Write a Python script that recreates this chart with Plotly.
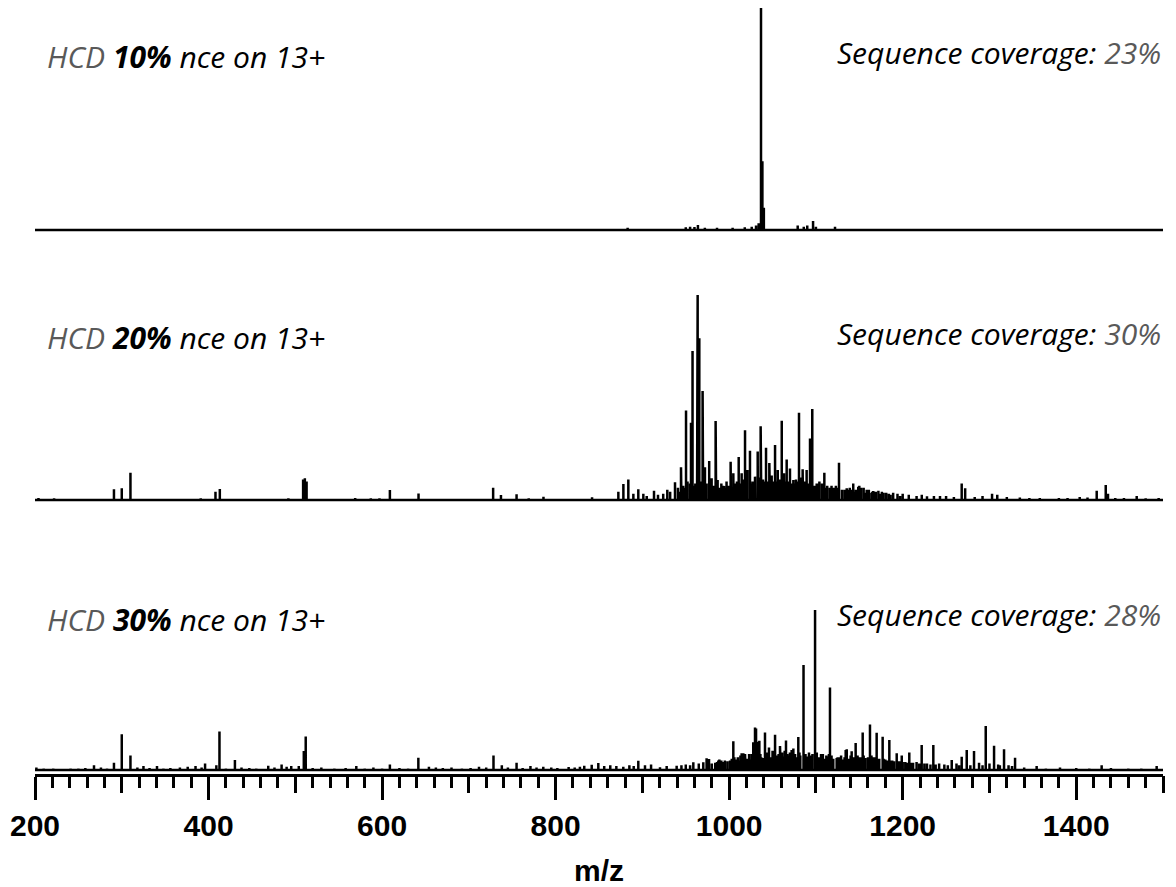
import plotly.graph_objects as go

# ---------------- data (m/z, relative intensity %) ----------------
# Panel 1: HCD 10% nce
p1_mz = [883, 950, 955, 960, 964, 972, 986, 1004, 1018, 1026, 1031, 1034,
         1036.7, 1038.3, 1040, 1079, 1086, 1090, 1096.7, 1100, 1122, 1210]
p1_int = [1, 1.2, 1.5, 1.3, 2.2, 1, 1, 1, 1.2, 1.5, 2, 3,
          100, 31, 10, 2, 1.5, 2, 4, 1.5, 1.5, 0.5]

# Panel 2: HCD 20% nce
p2_mz = [204, 222, 291, 300, 310, 391, 408, 413, 492, 509, 511, 513, 569, 587, 597,
         609, 642, 728, 737, 755, 769, 786, 842,
         872.3, 878.1, 883.8, 889.6, 895.3, 901.1, 913.4, 928.7, 937.6, 944.5,
         950.3, 956, 957.8, 963.7, 965.6, 969.4, 972.1,
         977, 979.8, 984.4, 986.7, 994, 1001.7, 1004.8, 1011, 1014.4, 1018.3,
         1021, 1024, 1029.8, 1032.9, 1036.3, 1042.5, 1046.3, 1049, 1052.9, 1056,
         1060.6, 1063.2, 1066.3, 1070.1, 1074, 1080.5, 1084.7, 1089.3, 1093.2, 1095.8,
         1100.9, 1109.7, 1120, 1126.6, 1135.5, 1143, 1148.8, 1150, 1155, 1158.5,
         1165, 1166.1, 1172, 1178, 1184, 1189, 1216, 1228, 1243, 1268,
         1272, 1303, 1309, 1358, 1404, 1423.6, 1434, 1436.6, 1469.7]
p2_int = [1, 0.8, 5.2, 5.7, 13.3, 0.8, 4, 5.4, 0.8, 10, 10.6, 9, 1, 0.8, 0.8,
          4.9, 3.2, 6, 2.4, 2.8, 0.8, 1.6, 1.3,
          4, 7.8, 10, 3, 5.2, 3, 4.5, 5, 8.6, 16,
          43.6, 37.7, 72.7, 100, 78.9, 53.2, 16,
          19, 10.6, 38.5, 9.8, 6.8, 18.7, 13, 21, 13, 34,
          14.6, 24, 11.4, 23.6, 36, 25.5, 18, 12, 26.8, 14.6,
          38.7, 13, 19.8, 15.4, 9.8, 42.6, 15, 14.6, 30, 44.4,
          8, 13.3, 5.7, 18.2, 5.7, 8, 6.5, 7, 6, 5,
          4, 4.4, 4.5, 3.5, 3, 3.5, 2, 1.8, 2, 8,
          5.7, 3, 2.5, 1, 1.5, 4.5, 7.3, 3, 2]
# dense low-level fragment "grass" in panel 2
g2_mz = [905, 918, 924, 932, 941, 947, 952, 961, 967, 974,
         982, 989, 991, 997, 999, 1007, 1009, 1016, 1027, 1035,
         1039, 1044, 1051, 1058, 1068, 1072, 1077, 1082, 1087, 1091,
         1098, 1104, 1107, 1113, 1116, 1123, 1130, 1139, 1146, 1152,
         1161, 1169, 1176, 1181, 1194, 1200, 1207, 1222, 1236, 1250,
         1259, 1283, 1292, 1320, 1335, 1346, 1380, 1390, 1413, 1445,
         1455, 1480, 1495]
g2_int = [2, 2.5, 3, 4, 6, 7, 9, 8, 9, 8,
          7, 6, 8, 9, 7, 8, 9, 10, 9, 11,
          10, 9, 8, 10, 9, 8, 10, 11, 9, 8,
          7, 9, 8, 7, 6, 7, 5, 6, 5, 6,
          5, 4, 4, 3.5, 3, 3, 2.5, 2.5, 2, 2,
          1.5, 1.5, 2, 1.5, 1.2, 1, 1, 1, 1.2, 1,
          1, 0.8, 1]
g2b_mz = [943, 945, 949, 955, 959, 963, 970, 978, 981, 985,
          993, 995, 1002, 1005, 1012, 1013, 1020, 1026, 1030, 1033,
          1037, 1041, 1047, 1050, 1055, 1059, 1065, 1069, 1075, 1079,
          1085, 1088, 1094, 1097, 1102, 1108, 1111, 1118, 1121, 1125,
          1133, 1137, 1141, 1144, 1149, 1157, 1164, 1174, 1186, 1197]
g2b_int = [4, 5, 6, 8, 7, 6, 6, 7, 6, 8,
           7, 6, 8, 9, 8, 7, 9, 8, 9, 9,
           8, 9, 8, 9, 9, 8, 9, 9, 8, 9,
           8, 8, 8, 7, 8, 7, 6, 7, 6, 6,
           5, 5, 5, 4, 4, 3.5, 3.5, 3, 2.5, 2]

# Panel 3: HCD 30% nce
p3_mz = [201.6, 221, 241, 268, 291, 300, 310, 325, 340.6, 367, 376, 385, 396, 409, 412.6,
         430.4, 468.8, 484.2, 495.3, 504, 509.8, 512, 570.3, 609, 641.8, 654, 711.7,
         728.4, 738, 755, 771, 785.8, 833, 841.6, 849.2, 895.3, 920.3, 939.5, 958.7,
         970.2, 974, 976.8, 987.5, 988.7, 1004.8, 1014.4, 1016.3, 1018.3, 1027.8, 1029.8,
         1031, 1032.5, 1034.8, 1041.3, 1045.9, 1052.9, 1058.6, 1059.4, 1065.5, 1072,
         1074, 1079.7, 1085.7, 1099, 1105.9, 1116.2, 1123.9, 1134.3, 1135.5, 1141.2,
         1145.8, 1153.9, 1162.3, 1170, 1176.9, 1184.6, 1193.1, 1198.9, 1207.6, 1221.9,
         1235.3, 1256.5, 1268, 1273.8, 1282.2, 1295.7, 1305.3, 1316.8, 1329.5, 1354.4,
         1381.3, 1429.3, 1492.7]
p3_int = [1.5, 1, 1, 3, 4.6, 22.3, 9, 2.5, 2.5, 1.5, 2, 2.5, 4, 3, 24,
          6.3, 2.7, 3.5, 2.5, 2.5, 11.9, 21, 2.5, 3.5, 7.7, 2, 2,
          9, 3, 4.6, 2.5, 2, 2.7, 3.3, 4.4, 5.8, 1.7, 2.7, 4.8,
          4.8, 7.3, 6.9, 6, 6.5, 18, 10.4, 10.4, 10, 17.3, 26.5,
          26, 17.7, 18.3, 23.5, 14, 22, 15, 14.8, 18.5, 12.5,
          13.5, 20.6, 65.6, 100, 10, 51.5, 7.5, 12.5, 13, 11.7,
          16.8, 23.5, 28.5, 23.3, 20.8, 18.8, 10.4, 9, 11, 15.6,
          15.6, 6.3, 8.3, 12.5, 11.9, 27.5, 15.2, 13, 7.7, 2.5,
          1.5, 3, 2.5]
# baseline noise and low-level fragments in panel 3
n3_mz = [210, 230, 250, 258, 276, 283, 318, 332, 348, 356,
         392, 420, 438, 447, 455, 476, 490, 520, 530, 545,
         558, 580, 590, 600, 620, 630, 662, 670, 680, 692,
         702, 720, 745, 762, 778, 795, 802, 815, 822, 828,
         856, 863, 870, 878, 885, 890, 903, 910, 928, 945,
         950, 955, 965, 980, 984, 993, 998, 1001, 1008, 1011,
         1021, 1024, 1037, 1039, 1048, 1055, 1062, 1068, 1077, 1082,
         1090, 1094, 1103, 1110, 1113, 1120, 1127, 1131, 1138, 1150,
         1157, 1166, 1173, 1180, 1188, 1196, 1203, 1212, 1216, 1228,
         1242, 1248, 1262, 1288, 1300, 1310, 1322, 1340, 1365, 1400,
         1415, 1440, 1460, 1475]
n3_int = [1, 0.8, 1, 1.2, 1.5, 1, 1.5, 1.2, 1, 1.2,
          1.5, 1, 1.5, 1.2, 1, 1.5, 2, 1.2, 1.5, 1,
          1.2, 1, 1.5, 1, 1.2, 1, 1.5, 1.2, 1.5, 1,
          1.2, 1.5, 1.5, 1.2, 1.5, 1.5, 1.2, 1.8, 1.5, 2,
          2.5, 3, 2.5, 2, 3, 2.5, 3, 3.5, 2.5, 3,
          3.5, 3, 4, 4, 4.5, 5, 5.5, 6, 6.5, 6,
          7, 6.5, 8, 7.5, 8, 9, 8.5, 9, 8, 9,
          8.5, 9, 8, 7, 8, 7, 8, 6.5, 7, 8,
          7.5, 8, 7, 6.5, 6, 5.5, 5, 4.5, 5, 4,
          4, 3.5, 4, 4.5, 4, 3.5, 3, 1.5, 1, 1.2,
          1, 1.2, 1, 1]
n3b_mz = [986, 991, 995, 1003, 1006, 1010, 1013, 1019, 1023, 1026,
          1033, 1036, 1043, 1046, 1050, 1053, 1057, 1061, 1064, 1067,
          1070, 1076, 1081, 1088, 1092, 1096, 1101, 1108, 1112, 1115,
          1118, 1125, 1129, 1133, 1140, 1143, 1148, 1152, 1155, 1160,
          1164, 1168, 1172, 1178, 1182, 1186, 1190, 1195, 1200, 1205,
          1210, 1219, 1225, 1232, 1238, 1252, 1265, 1278, 1292, 1312,
          1326]
n3b_int = [5, 6, 6, 7, 8, 8, 9, 9, 10, 10,
           11, 10, 11, 10, 12, 11, 10, 11, 12, 10,
           11, 10, 11, 10, 11, 10, 11, 10, 9, 10,
           9, 8, 9, 8, 9, 8, 9, 8, 9, 8,
           9, 8, 7, 7, 6, 6, 5.5, 5, 5, 4.5,
           4.5, 4, 4, 3.5, 3.5, 3, 3, 3, 3, 3,
           2.5]

panel_labels = ["10%", "20%", "30%"]
coverages = ["23%", "30%", "28%"]
x_range = [200, 1500]
major_ticks = [200, 400, 600, 800, 1000, 1200, 1400]
mid_ticks = [300, 500, 700, 900, 1100, 1300, 1500]

# ---------------- layout geometry (pixels) ----------------
W, H = 1176, 887
ML, MR, MT, MB = 35, 13, 0, 112
PH = H - MT - MB  # plot height
# (baseline pixel, 100% pixel) for each panel
panel_px = [(230, 8), (500, 295), (770, 610)]
YLO, YHI = -3, 101


def domain(base, top):
    unit = (base - top) / 100.0
    lo_px = base - YLO * unit
    hi_px = base - YHI * unit
    return [max(0.0, (MT + PH - lo_px) / PH), min(1.0, (MT + PH - hi_px) / PH)]


def sticks(mz, inten):
    pts = sorted(zip(mz, inten))
    xs, ys = [x_range[0]], [0]
    for m, h in pts:
        xs += [m, m, m]
        ys += [0, h, 0]
    xs.append(x_range[1])
    ys.append(0)
    return xs, ys


series = [
    sticks(p1_mz, p1_int),
    sticks(p2_mz + g2_mz + g2b_mz, p2_int + g2_int + g2b_int),
    sticks(p3_mz + n3_mz + n3b_mz, p3_int + n3_int + n3b_int),
]

fig = go.Figure()
yaxes = ["y", "y2", "y3"]
for (xs, ys), ya in zip(series, yaxes):
    fig.add_trace(go.Scatter(x=xs, y=ys, xaxis="x", yaxis=ya, mode="lines",
                             line=dict(color="black", width=2.5), hoverinfo="skip",
                             showlegend=False))
# empty trace carrying the overlay axis for the intermediate ticks
fig.add_trace(go.Scatter(x=[], y=[], xaxis="x2", yaxis="y3", showlegend=False))

layout = dict(
    width=W, height=H,
    margin=dict(l=ML, r=MR, t=MT, b=MB, pad=0),
    paper_bgcolor="white", plot_bgcolor="white",
    xaxis=dict(range=x_range, anchor="free", position=0,
               showline=True, linecolor="black", linewidth=2.5,
               showgrid=False, zeroline=False,
               tickmode="array", tickvals=major_ticks,
               ticktext=[str(t) for t in major_ticks],
               ticks="outside", ticklen=23, tickwidth=2.5, tickcolor="black",
               tickfont=dict(family="Liberation Sans", size=30, color="black", weight="bold"),
               minor=dict(tickmode="linear", tick0=200, dtick=20, ticks="outside",
                          ticklen=11, tickwidth=2.5, tickcolor="black", showgrid=False),
               title=dict(text="m/z", standoff=22,
                          font=dict(family="Liberation Sans", size=30, color="black", weight="bold"))),
    xaxis2=dict(range=x_range, overlaying="x", anchor="free", position=0,
                showline=False, showgrid=False, zeroline=False,
                tickmode="array", tickvals=mid_ticks, showticklabels=False,
                ticks="outside", ticklen=17, tickwidth=2.5, tickcolor="black"),
)
for i, ((base, top), ya) in enumerate(zip(panel_px, yaxes)):
    key = "yaxis" if i == 0 else f"yaxis{i + 1}"
    layout[key] = dict(domain=domain(base, top), range=[YLO, YHI], anchor="x",
                       visible=False, fixedrange=True)
fig.update_layout(**layout)

# ---------------- annotations ----------------
label_y_px = [56, 337, 619]
cov_y_px = [52, 333, 614]
ann_font = dict(family="Open Sans", size=30, color="black")
for lab, cov, ly, cy in zip(panel_labels, coverages, label_y_px, cov_y_px):
    fig.add_annotation(
        xref="paper", yref="paper", x=(45 - ML) / (W - ML - MR), y=(MT + PH - ly) / PH,
        xanchor="left", yanchor="middle", showarrow=False, font=ann_font,
        text=f"<i><span style='color:#595959'>HCD</span> <b>{lab}</b> nce on 13+</i>")
    fig.add_annotation(
        xref="paper", yref="paper", x=1.0, y=(MT + PH - cy) / PH,
        xanchor="right", yanchor="middle", showarrow=False, font=ann_font,
        text=f"<i>Sequence coverage: <span style='color:#595959'>{cov}</span></i>")

fig.write_html("out.html", config={"displayModeBar": False},
               post_script="document.body.style.margin='0';")
